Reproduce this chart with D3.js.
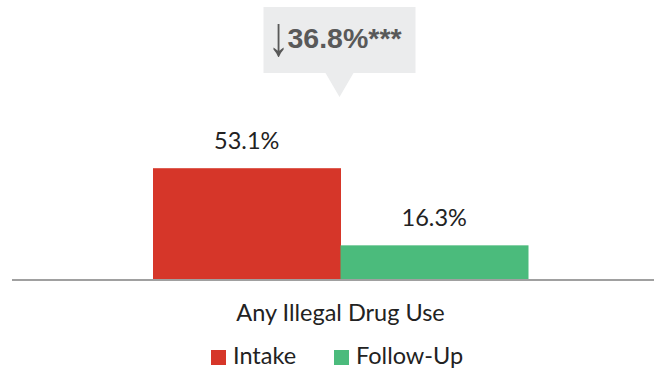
<!DOCTYPE html>
<html>
<head>
<meta charset="utf-8">
<script src="https://cdn.jsdelivr.net/npm/d3@7"></script>
<style>
  html, body { margin: 0; padding: 0; background: #fff; }
  svg { display: block; }
</style>
</head>
<body>
<svg id="chart" width="654" height="369"></svg>
<script>
// Data
const categories = ["Any Illegal Drug Use"];
const seriesNames = ["Intake", "Follow-Up"];
const intakeValues = [53.1];
const followUpValues = [16.3];
const seriesColors = ["#d63629", "#4bbb7c"];

const W = 654, H = 369;
const baseY = 279.5;
const svg = d3.select("#chart");
const labelFont = "Lato, 'Open Sans', sans-serif";

const x0 = d3.scaleBand().domain(categories).range([27, 654]).paddingInner(0);
const x1 = d3.scaleBand().domain(seriesNames).range([0, x0.bandwidth()])
  .paddingInner(0).paddingOuter(0.672);
const y = d3.scaleLinear().domain([0, 100]).range([baseY, baseY - 209.6]);
const color = d3.scaleOrdinal().domain(seriesNames).range(seriesColors);

const rows = categories.map((c, i) => ({
  category: c,
  values: [
    { series: "Intake", value: intakeValues[i] },
    { series: "Follow-Up", value: followUpValues[i] }
  ]
}));

const groups = svg.selectAll("g.group").data(rows).join("g")
  .attr("class", "group")
  .attr("transform", d => `translate(${x0(d.category)},0)`);

groups.selectAll("rect").data(d => d.values).join("rect")
  .attr("x", d => x1(d.series))
  .attr("width", x1.bandwidth() + 0.5)
  .attr("y", d => y(d.value))
  .attr("height", d => baseY - y(d.value))
  .attr("fill", d => color(d.series));

groups.selectAll("text.val").data(d => d.values).join("text")
  .attr("class", "val")
  .attr("x", d => x1(d.series) + x1.bandwidth() / 2)
  .attr("y", d => y(d.value) - 19)
  .attr("text-anchor", "middle")
  .attr("font-family", labelFont)
  .attr("font-size", 23.5)
  .attr("fill", "#222")
  .text(d => d.value.toFixed(1) + "%");

// Baseline axis
const xAxis = d3.axisBottom(x0).tickSize(0).tickPadding(25);
const axisG = svg.append("g").attr("transform", `translate(0,${baseY})`).call(xAxis);
axisG.select(".domain").remove();
axisG.selectAll("text")
  .attr("font-family", labelFont)
  .attr("font-size", 23.5)
  .attr("fill", "#222");
svg.append("line")
  .attr("x1", 12).attr("x2", W)
  .attr("y1", baseY + 0.5).attr("y2", baseY + 0.5)
  .attr("stroke", "#a0a0a0").attr("stroke-width", 2);

// Change callout above the group
rows.forEach(r => {
  const cx = x0(r.category) + x0.bandwidth() / 2 - 1;
  const change = r.values[0].value - r.values[1].value;
  const g = svg.append("g");
  const boxW = 152, boxTop = 7, boxBottom = 73;
  g.append("path")
    .attr("d", `M${cx - boxW / 2},${boxTop} H${cx + boxW / 2} V${boxBottom} H${cx + 14} L${cx},${boxBottom + 24} L${cx - 14},${boxBottom} H${cx - boxW / 2} Z`)
    .attr("fill", "#ebeced");
  g.append("text")
    .attr("transform", `translate(${cx - 61},55) scale(1.2,1.55)`)
    .attr("text-anchor", "middle")
    .attr("fill", "#595959")
    .attr("font-family", "'Liberation Sans', Arial, sans-serif")
    .attr("font-size", 36)
    .text("\u2193");
  g.append("text")
    .attr("x", cx - 52)
    .attr("y", 48)
    .attr("fill", "#595959")
    .attr("font-family", "'Liberation Sans', Arial, sans-serif")
    .attr("font-size", 28.5)
    .attr("font-weight", "bold")
    .text(change.toFixed(1) + "%***");
});

// Legend
const legendItems = [
  { name: "Intake", x: 211 },
  { name: "Follow-Up", x: 334 }
];
const lg = svg.append("g");
legendItems.forEach(item => {
  lg.append("rect")
    .attr("x", item.x).attr("y", 350)
    .attr("width", 15).attr("height", 15)
    .attr("fill", color(item.name));
  lg.append("text")
    .attr("x", item.x + 22).attr("y", 364)
    .attr("font-family", labelFont)
    .attr("font-size", 23.5)
    .attr("fill", "#222")
    .text(item.name);
});
</script>
</body>
</html>
